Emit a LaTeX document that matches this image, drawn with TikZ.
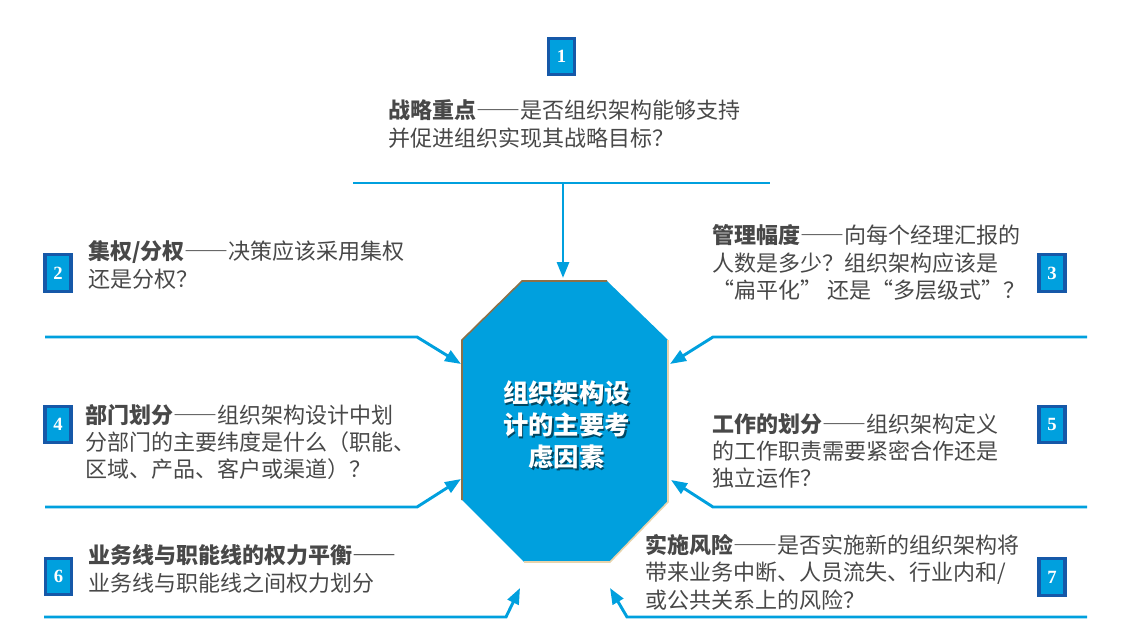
\documentclass[tikz,border=0pt]{standalone}
\usepackage{fontspec}
\newfontfamily\cjk{Noto Sans CJK SC}
\newfontfamily\cjkwide[RawFeature=+fwid]{Noto Sans CJK SC}
\newfontfamily\numfont{Liberation Serif}
\newcommand\ldash{{\cjkwide ——}}
\newcommand\openq{{\cjkwide “}}
\newcommand\closeq{{\cjkwide ”}}
\usetikzlibrary{arrows.meta,positioning}
\definecolor{skyblue}{RGB}{0,160,222}
\definecolor{boxblue}{RGB}{22,88,168}
\definecolor{textgray}{RGB}{72,72,72}
\definecolor{edgebrown}{RGB}{140,112,72}
\definecolor{edgetan}{RGB}{232,212,172}
\tikzset{
    numbox/.style={
        rectangle,
        draw=boxblue,
        line width=2.4pt,
        fill=skyblue,
        minimum width=19.5pt,
        minimum height=27.5pt,
        inner sep=0pt,
        text=white,
        font=\numfont\bfseries\fontsize{14}{14}\selectfont
    },
    topic/.style={
        anchor=west,
        align=left,
        inner sep=0pt,
        text=textgray,
        font=\cjk\fontsize{16.5}{20.5}\selectfont
    },
    leadline/.style={
        draw=skyblue,
        line width=2.2pt
    },
    pointer/.style={
        leadline,
        -{Triangle[length=12pt,width=9pt]}
    }
}

\begin{document}
\begin{tikzpicture}[x=0.75pt, y=-0.75pt]
\useasboundingbox (0,0) rectangle (1123,642);

% Octagon
\fill[skyblue] (522,281) -- (607,281) -- (668,340) -- (668,502) -- (610,562) -- (524,562) -- (462,500) -- (462,340) -- cycle;
\draw[edgebrown, line width=1.2pt] (462,500) -- (462,340) -- (522,281) -- (607,281);
\draw[edgetan, line width=1.2pt] (668,340) -- (668,502) -- (610,562) -- (524,562);
\node[text=black, opacity=0.55, align=center, font=\cjk\bfseries\fontsize{19}{24}\selectfont] (hub-shade) at (568,427) {组织架构设\\计的主要考\\虑因素};
\node[text=white, align=center, font=\cjk\bfseries\fontsize{19}{24}\selectfont] (hub) at (566.5,425) {组织架构设\\计的主要考\\虑因素};

% Arrow ends on the octagon
\coordinate (hub-n) at (563,278);
\coordinate (hub-nw) at (461,364);
\coordinate (hub-ne) at (670,364);
\coordinate (hub-sw) at (461,479);
\coordinate (hub-se) at (671,480);
\coordinate (hub-ssw) at (520,588);
\coordinate (hub-sse) at (610,588);

% Strategy
\node[topic] (strategy-text) at (388,124) {\textbf{战略重点}\ldash 是否组织架构能够支持\\并促进组织实现其战略目标？};
\node[numbox] (strategy-num) at (561.5,56.5) {1};
\coordinate (strategy-a) at (353,183);
\coordinate (strategy-b) at (770,183);
\coordinate (strategy-m) at (563,183);
\draw[leadline] (strategy-a) -- (strategy-b);
\draw[pointer] (strategy-m) -- (hub-n);

% Centralisation
\node[topic] (central-text) at (88,265) {\textbf{集权/分权}\ldash 决策应该采用集权\\还是分权？};
\node[numbox] (central-num) at (58,273) {2};
\coordinate (central-a) at (45,337);
\coordinate (central-b) at (417,337);
\draw[pointer] (central-a) -- (central-b) -- (hub-nw);

% Span of control
\node[topic] (span-text) at (712,262.5) {\textbf{管理幅度}\ldash 向每个经理汇报的\\人数是多少？组织架构应该是\\\openq 扁平化\closeq\ 还是\openq 多层级式\closeq？};
\node[numbox] (span-num) at (1052,273) {3};
\coordinate (span-a) at (1087,337);
\coordinate (span-b) at (713,337);
\draw[pointer] (span-a) -- (span-b) -- (hub-ne);

% Departments
\node[topic] (dept-text) at (85,442) {\textbf{部门划分}\ldash 组织架构设计中划\\分部门的主要纬度是什么（职能、\\区域、产品、客户或渠道）？};
\node[numbox] (dept-num) at (58,424.5) {4};
\coordinate (dept-a) at (45,507);
\coordinate (dept-b) at (417,507);
\draw[pointer] (dept-a) -- (dept-b) -- (hub-sw);

% Division of work
\node[topic] (work-text) at (712,451) {\textbf{工作的划分}\ldash 组织架构定义\\的工作职责需要紧密合作还是\\独立运作？};
\node[numbox] (work-num) at (1052,424.5) {5};
\coordinate (work-a) at (1087,507);
\coordinate (work-b) at (713,507);
\draw[pointer] (work-a) -- (work-b) -- (hub-se);

% Balance of power
\node[topic] (balance-text) at (88,569) {\textbf{业务线与职能线的权力平衡\ldash}\\业务线与职能线之间权力划分};
\node[numbox] (balance-num) at (58.5,576.5) {6};
\coordinate (balance-a) at (44,617);
\coordinate (balance-b) at (506,617);
\draw[pointer] (balance-a) -- (balance-b) -- (hub-ssw);

% Risk
\node[topic] (risk-text) at (645,572) {\textbf{实施风险}\ldash 是否实施新的组织架构将\\带来业务中断、人员流失、行业内和/\\或公共关系上的风险？};
\node[numbox] (risk-num) at (1052,577) {7};
\coordinate (risk-a) at (1087,617);
\coordinate (risk-b) at (627,617);
\draw[pointer] (risk-a) -- (risk-b) -- (hub-sse);
\end{tikzpicture}
\end{document}
